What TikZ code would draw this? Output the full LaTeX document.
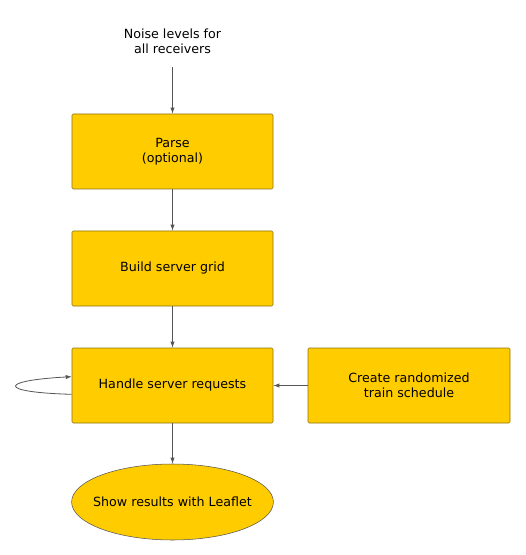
\documentclass[tikz,border=0pt]{standalone}
\usepackage{fontspec}
\setmainfont{DejaVu Sans}
\usepackage{xcolor}
\usetikzlibrary{arrows.meta, shapes.geometric, positioning}

\definecolor{stepfill}{HTML}{FFCC00}
\definecolor{stepline}{HTML}{8C7410}
\definecolor{flowline}{HTML}{555555}

\begin{document}
\begin{tikzpicture}[
  x=0.75pt, y=-0.75pt,
  >={Latex[length=4.5pt,width=3.2pt]},
  stepbox/.style={draw=stepline, fill=stepfill, rounded corners=1pt,
                  minimum width=150.75pt, minimum height=56.25pt,
                  font=\fontsize{9.5}{11.5}\selectfont, align=center, inner sep=0pt},
  resultnode/.style={ellipse, draw=flowline, fill=stepfill,
                     minimum height=57pt, inner ysep=0pt, inner xsep=-6pt,
                     font=\fontsize{9.5}{11.5}\selectfont},
  flow/.style={->, draw=flowline, line width=0.6pt},
  lbl/.style={font=\fontsize{9.5}{11.5}\selectfont, align=center}
]
\useasboundingbox (0,0) rectangle (525,555);

% Input
\node[lbl] (noise) at (172.5,41) {Noise levels for\\all receivers};
\coordinate (noiseout) at (172.5,67);

% Main chain
\node[stepbox] (parse)  at (172.5,151.5) {Parse\\(optional)};
\node[stepbox] (grid)   at (172.5,268.5) {Build server grid};
\node[stepbox] (handle) at (172.5,385.5) {Handle server requests};
\node[resultnode] (leaflet) at (172.5,502) {Show results with Leaflet};

% Side input
\node[stepbox, minimum width=151.5pt] (sched) at (409,385.5) {Create randomized\\train schedule};

\draw[flow] (noiseout) -- (parse.north);
\draw[flow] (parse.south) -- (grid.north);
\draw[flow] (grid.south) -- (handle.north);
\draw[flow] (handle.south) -- (leaflet.north);
\draw[flow] (sched.west) -- (handle.east);

% Self loop
\draw[flow] (handle.185) .. controls +(-74,-2) and +(-74,4) .. (handle.175);

\end{tikzpicture}
\end{document}
